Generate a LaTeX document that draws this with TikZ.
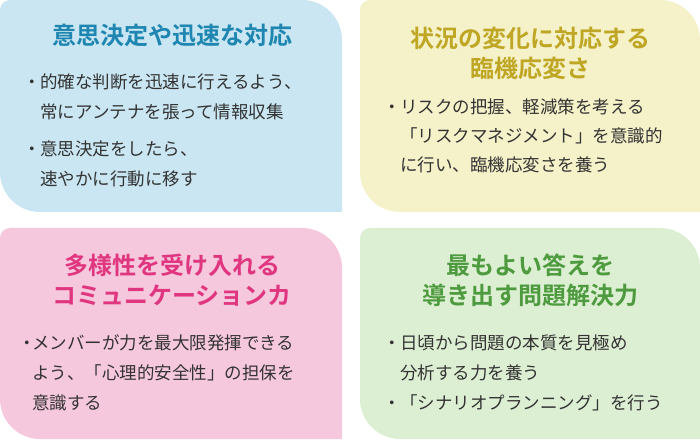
\documentclass[tikz,border=0pt]{standalone}
\usepackage{fontspec}
\setmainfont{Noto Sans CJK JP}
\newfontfamily\jpb{Noto Sans CJK JP Bold}
\definecolor{bfill}{HTML}{C9E6F2}\definecolor{btxt}{HTML}{1E86B0}
\definecolor{yfill}{HTML}{F5F2C9}\definecolor{ytxt}{HTML}{BFA725}
\definecolor{pfill}{HTML}{F6C8DD}\definecolor{ptxt}{HTML}{E0357F}
\definecolor{gfill}{HTML}{DDEFD3}\definecolor{gtxt}{HTML}{4E9A3E}
\definecolor{body}{HTML}{333333}
\newcommand{\qbox}[5]{\fill[#5] (#1+10,#4) -- (#3-40,#4) arc[start angle=90,end angle=0,radius=40] -- (#3,#2) -- (#1+40,#2) arc[start angle=270,end angle=180,radius=40] -- (#1,#4-10) arc[start angle=180,end angle=90,radius=10] -- cycle;}
\newcommand{\bl}{\hbox to 16pt{\hss・\hss}}
\tikzset{x=1pt,y=1pt,
 ttl/.style={font=\jpb\fontsize{24}{30}\selectfont,align=center,inner sep=0},
 bd/.style={font=\fontsize{17.5}{20}\selectfont,text=body,anchor=west,inner sep=0}}
\begin{document}
\begin{tikzpicture}
\useasboundingbox (0,0) rectangle (700,439);
\qbox{0}{227}{342}{439}{bfill}
\qbox{360}{227}{700}{439}{yfill}
\qbox{0}{0}{342}{211}{pfill}
\qbox{360}{0}{700}{211}{gfill}
\node[ttl,text=btxt] (t1) at (172,404) {意思決定や迅速な対応};
\node[bd] (a1) at (24,357) {\bl 的確な判断を迅速に行えるよう、};
\node[bd] (a2) at (40,327) {常にアンテナを張って情報収集};
\node[bd] (a3) at (24,290) {\bl 意思決定をしたら、};
\node[bd] (a4) at (40,260) {速やかに行動に移す};
\node[ttl,text=ytxt] (t2) at (530,386) {状況の変化に対応する\\臨機応変さ};
\node[bd] (b1) at (384,332) {\bl リスクの把握、軽減策を考える};
\node[bd] (b2) at (400,303) {「リスクマネジメント」を意識的};
\node[bd] (b3) at (400,274) {に行い、臨機応変さを養う};
\node[ttl,text=ptxt] (t3) at (172,159) {多様性を受け入れる\\コミュニケーションカ};
\node[bd] (c1) at (22,96) {\hbox to 10pt{\hss・\hss}メンバーが力を最大限発揮できる};
\node[bd] (c2) at (32,66) {よう、「心理的安全性」の担保を};
\node[bd] (c3) at (32,36) {意識する};
\node[ttl,text=gtxt] (t4) at (530,159) {最もよい答えを\\導き出す問題解決力};
\node[bd] (d1) at (384,96) {\bl 日頃から問題の本質を見極め};
\node[bd] (d2) at (400,66) {分析する力を養う};
\node[bd] (d3) at (384,36) {\bl 「シナリオプランニング」を行う};
\end{tikzpicture}
\end{document}
